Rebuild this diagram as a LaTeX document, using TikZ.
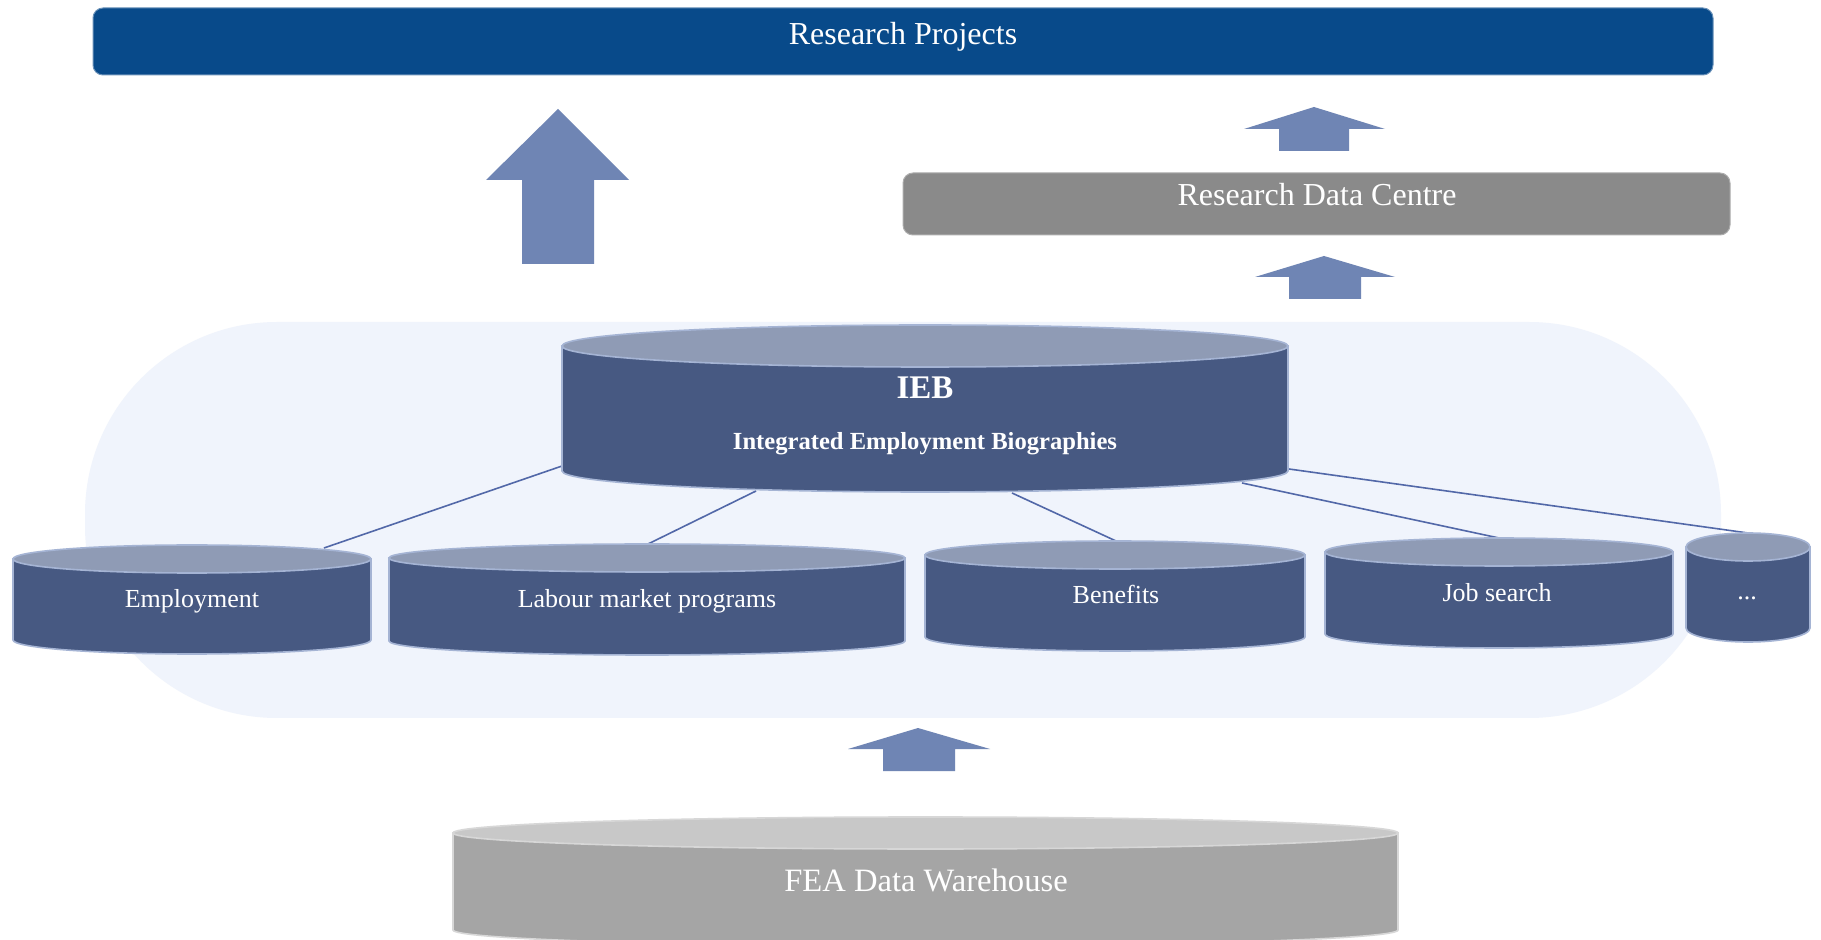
\documentclass[tikz,border=0pt]{standalone}
\usepackage{fontspec}
\setmainfont{Liberation Serif}
\definecolor{titleblue}{RGB}{8,74,138}
\definecolor{rdcgray}{RGB}{138,138,138}
\definecolor{arrowblue}{RGB}{111,133,180}
\definecolor{bgblue}{RGB}{240,244,252}
\definecolor{cyltop}{RGB}{143,155,181}
\definecolor{cylbody}{RGB}{71,89,130}
\definecolor{cyledge}{RGB}{165,180,212}
\definecolor{linkblue}{RGB}{82,104,168}
\definecolor{featop}{RGB}{200,200,200}
\definecolor{feabody}{RGB}{165,165,165}
\definecolor{feaedge}{RGB}{215,215,215}
\newcommand\mycyl[8]{%
  \pgfmathsetmacro\cxm{(#1+#2)/2}%
  \pgfmathsetmacro\rxm{(#2-#1)/2}%
  \filldraw[fill=#7, draw=#8, line width=0.8pt] (#1,#3) -- (#1,#4) arc[start angle=180, end angle=0, x radius=\rxm, y radius=#5] -- (#2,#3) -- cycle;
  \filldraw[fill=#6, draw=#8, line width=0.8pt] (\cxm,#3) ellipse[x radius=\rxm, y radius=#5];
}
\begin{document}
\begin{tikzpicture}[x=0.5pt,y=-0.5pt]
\tikzset{
  upshape/.style={fill=arrowblue, draw=none},
  txt/.style={text=white, inner sep=0pt, anchor=base},
  link/.style={draw=linkblue, line width=0.8pt},
  bigtxt/.style={txt, font=\fontsize{16}{19}\selectfont},
  smalltxt/.style={txt, font=\fontsize{13}{16}\selectfont},
}
\useasboundingbox (0,0) rectangle (1821,940);
\clip (0,0) rectangle (1821,940);
\fill[white] (0,0) rectangle (1821,940);

% background band
\fill[bgblue, rounded corners=96pt] (85,322) rectangle (1721,718);

% top box
\node[fill=titleblue, draw=titleblue!60!white, line width=0.5pt, rounded corners=5pt,
      minimum width=810pt, minimum height=33.5pt, inner sep=0pt] (proj) at (903,41.5) {};
\node[bigtxt] (projtext) at (903,45) {Research Projects};

% research data centre box
\node[fill=rdcgray, draw=rdcgray!70!white, line width=0.5pt, rounded corners=5pt,
      minimum width=413.5pt, minimum height=31pt, inner sep=0pt] (rdc) at (1316.5,204) {};
\node[bigtxt] (rdctext) at (1317,206) {Research Data Centre};

% block arrows
\fill[upshape] (558,109) -- (629,180) -- (594,180) -- (594,264) -- (522,264) -- (522,180) -- (486,180) -- cycle;
\fill[upshape] (1314,107) -- (1385,129) -- (1349,129) -- (1349,151) -- (1279,151) -- (1279,129) -- (1244,129) -- cycle;
\fill[upshape] (1324,256) -- (1395,277) -- (1361,277) -- (1361,299) -- (1289,299) -- (1289,277) -- (1255,277) -- cycle;
\fill[upshape] (918,728) -- (990,749) -- (955,749) -- (955,771) -- (883,771) -- (883,749) -- (848,749) -- cycle;

% connector end points
\coordinate (ieba) at (562,466);
\coordinate (iebb) at (756,491);
\coordinate (iebc) at (1012,493);
\coordinate (iebd) at (1242,483);
\coordinate (iebe) at (1289,469);
\coordinate (empt) at (324,548);
\coordinate (lmpt) at (648,544);
\coordinate (bent) at (1116,541);
\coordinate (jobt) at (1499,538);
\coordinate (dotst) at (1748,533);

\draw[link] (ieba) -- (empt);
\draw[link] (iebb) -- (lmpt);
\draw[link] (iebc) -- (bent);
\draw[link] (iebd) -- (jobt);
\draw[link] (iebe) -- (dotst);

% IEB cylinder
\mycyl{562}{1288}{346}{471}{21}{cyltop}{cylbody}{cyledge}
\node[txt, font=\bfseries\fontsize{16.5}{19}\selectfont] (ieb) at (925,399) {IEB};
\node[txt, font=\bfseries\fontsize{12.3}{15}\selectfont] (iebsub) at (925,450) {Integrated Employment Biographies};

% source cylinders
\mycyl{13}{371}{559}{640}{14}{cyltop}{cylbody}{cyledge}
\node[smalltxt] (emp) at (192,608) {Employment};
\mycyl{389}{905}{558}{641}{14}{cyltop}{cylbody}{cyledge}
\node[smalltxt] (lmp) at (647,608) {Labour market programs};
\mycyl{925}{1305}{555}{637}{14}{cyltop}{cylbody}{cyledge}
\node[smalltxt] (ben) at (1116,604) {Benefits};
\mycyl{1325}{1673}{552}{634}{14}{cyltop}{cylbody}{cyledge}
\node[smalltxt] (job) at (1497,602) {Job search};
\mycyl{1686}{1810}{547}{628}{14}{cyltop}{cylbody}{cyledge}
\node[smalltxt] (dots) at (1747,600) {...};

% FEA data warehouse
\mycyl{453}{1398}{833}{930}{16}{featop}{feabody}{feaedge}
\node[txt, font=\fontsize{16.3}{19}\selectfont] (fea) at (926,891) {FEA Data Warehouse};
\end{tikzpicture}
\end{document}
